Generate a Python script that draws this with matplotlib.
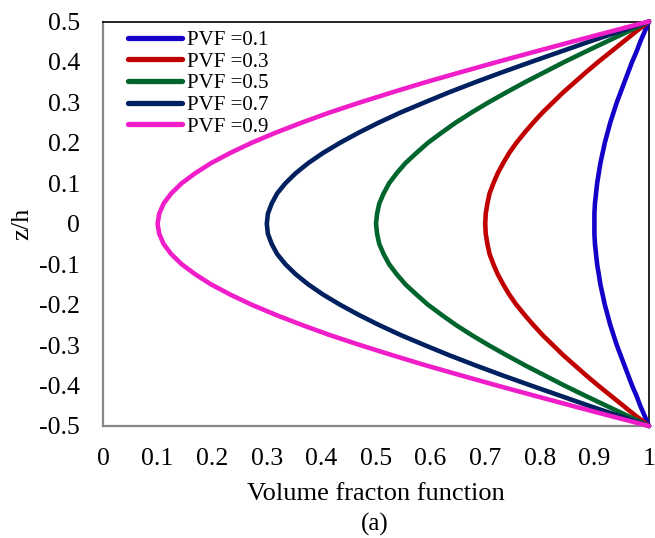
import matplotlib
matplotlib.use("Agg")
import matplotlib.pyplot as plt

# z/h positions (thickness coordinate)
z = [-0.5, -0.475, -0.45, -0.425, -0.4, -0.375, -0.35, -0.325, -0.3, -0.275,
     -0.25, -0.225, -0.2, -0.175, -0.15, -0.125, -0.1, -0.075, -0.05, -0.025,
     0.0,
     0.025, 0.05, 0.075, 0.1, 0.125, 0.15, 0.175, 0.2, 0.225,
     0.25, 0.275, 0.3, 0.325, 0.35, 0.375, 0.4, 0.425, 0.45, 0.475, 0.5]

labels = ["PVF =0.1", "PVF =0.3", "PVF =0.5", "PVF =0.7", "PVF =0.9"]

v01 = [1.000, 0.992, 0.984, 0.977, 0.969, 0.962, 0.955, 0.948, 0.941, 0.935,
       0.929, 0.924, 0.919, 0.915, 0.911, 0.908, 0.905, 0.903, 0.901, 0.900,
       0.900,
       0.900, 0.901, 0.903, 0.905, 0.908, 0.911, 0.915, 0.919, 0.924,
       0.929, 0.935, 0.941, 0.948, 0.955, 0.962, 0.969, 0.977, 0.984, 0.992, 1.000]

v03 = [1.000, 0.976, 0.953, 0.930, 0.907, 0.885, 0.864, 0.843, 0.824, 0.805,
       0.788, 0.772, 0.757, 0.744, 0.733, 0.723, 0.715, 0.708, 0.704, 0.701,
       0.700,
       0.701, 0.704, 0.708, 0.715, 0.723, 0.733, 0.744, 0.757, 0.772,
       0.788, 0.805, 0.824, 0.843, 0.864, 0.885, 0.907, 0.930, 0.953, 0.976, 1.000]

v05 = [1.000, 0.961, 0.922, 0.883, 0.845, 0.809, 0.773, 0.739, 0.706, 0.675,
       0.646, 0.620, 0.595, 0.574, 0.554, 0.538, 0.524, 0.514, 0.506, 0.502,
       0.500,
       0.502, 0.506, 0.514, 0.524, 0.538, 0.554, 0.574, 0.595, 0.620,
       0.646, 0.675, 0.706, 0.739, 0.773, 0.809, 0.845, 0.883, 0.922, 0.961, 1.000]

v07 = [1.000, 0.945, 0.890, 0.837, 0.784, 0.732, 0.682, 0.634, 0.589, 0.545,
       0.505, 0.468, 0.434, 0.403, 0.376, 0.353, 0.334, 0.319, 0.309, 0.302,
       0.300,
       0.302, 0.309, 0.319, 0.334, 0.353, 0.376, 0.403, 0.434, 0.468,
       0.505, 0.545, 0.589, 0.634, 0.682, 0.732, 0.784, 0.837, 0.890, 0.945, 1.000]

v09 = [1.000, 0.929, 0.859, 0.790, 0.722, 0.656, 0.591, 0.530, 0.471, 0.415,
       0.364, 0.316, 0.272, 0.233, 0.198, 0.169, 0.144, 0.125, 0.111, 0.103,
       0.100,
       0.103, 0.111, 0.125, 0.144, 0.169, 0.198, 0.233, 0.272, 0.316,
       0.364, 0.415, 0.471, 0.530, 0.591, 0.656, 0.722, 0.790, 0.859, 0.929, 1.000]

xticks = [0, 0.1, 0.2, 0.3, 0.4, 0.5, 0.6, 0.7, 0.8, 0.9, 1]
xticklabels = ["0", "0.1", "0.2", "0.3", "0.4", "0.5", "0.6", "0.7", "0.8", "0.9", "1"]
yticks = [-0.5, -0.4, -0.3, -0.2, -0.1, 0, 0.1, 0.2, 0.3, 0.4, 0.5]
yticklabels = ["-0.5", "-0.4", "-0.3", "-0.2", "-0.1", "0", "0.1", "0.2", "0.3", "0.4", "0.5"]

colors = ["#1400c8", "#c00000", "#00642d", "#002060", "#f01ec8"]

plt.rcParams["font.family"] = ["Liberation Serif", "DejaVu Serif"]

fig = plt.figure(figsize=(6.55, 5.38), dpi=100)
ax = fig.add_axes([103 / 655, 1 - 426 / 538, 546 / 655, 404.5 / 538])

for vals, lab, col in zip([v01, v03, v05, v07, v09], labels, colors):
    ax.plot(vals, z, color=col, lw=3.3, label=lab, solid_capstyle="round",
            solid_joinstyle="round", clip_on=False, zorder=3)

ax.set_xlim(0, 1)
ax.set_ylim(-0.5, 0.5)
ax.set_xticks(xticks)
ax.set_xticklabels(xticklabels)
ax.set_yticks(yticks)
ax.set_yticklabels(yticklabels)
ax.tick_params(axis="both", length=0, labelsize=18.5)
ax.tick_params(axis="x", pad=16)
ax.tick_params(axis="y", pad=16.5)

for side in ["left", "bottom"]:
    ax.spines[side].set_color("#878787")
    ax.spines[side].set_linewidth(1.6)
for side in ["top", "right"]:
    ax.spines[side].set_color("black")
    ax.spines[side].set_linewidth(1.2)

ax.set_xlabel("Volume fracton function", fontsize=19, labelpad=9)
ax.set_ylabel("z/h", fontsize=19, labelpad=4)

fig.text(375 / 655, 1 - 524 / 538, "(a)", fontsize=18, ha="center", va="center")

leg = ax.legend(loc="upper left", bbox_to_anchor=(0.045, 0.978), frameon=False,
                fontsize=15, handlelength=2.6, handletextpad=0.25,
                labelspacing=0.1, borderaxespad=0, borderpad=0)
for line in leg.get_lines():
    line.set_linewidth(3.8)

fig.savefig("out.png", dpi=100)
